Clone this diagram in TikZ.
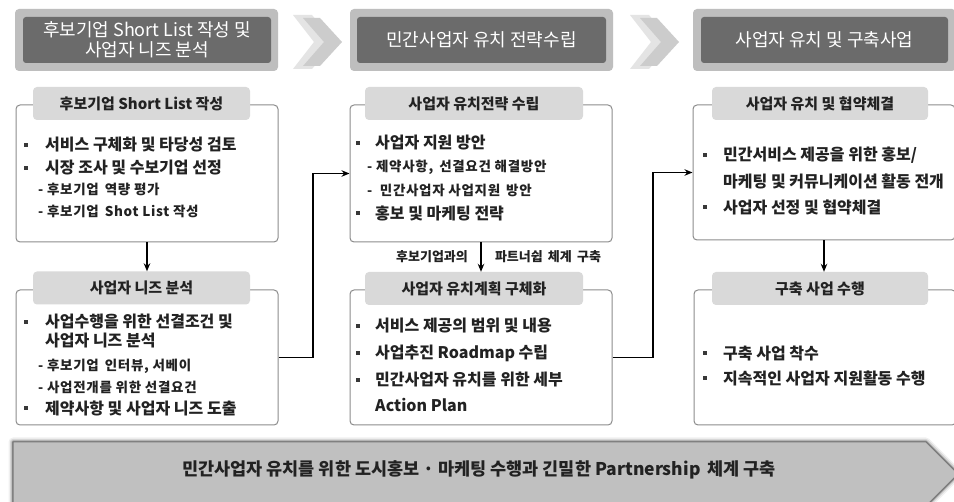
\documentclass[tikz,border=0pt]{standalone}
\usepackage{fontspec}
\setmainfont{Noto Sans CJK KR}
\usetikzlibrary{arrows.meta}
\definecolor{hdrouter}{HTML}{BEBEBE}
\definecolor{hdrinner}{HTML}{6B6B6B}
\definecolor{tabfill}{HTML}{D9D9D9}
\definecolor{boxline}{HTML}{8C8C8C}
\definecolor{txt}{HTML}{222222}
\definecolor{bannerfill}{HTML}{C0C0C0}
\definecolor{bannerline}{HTML}{7A7A7A}
\definecolor{chevA}{HTML}{E4E4E4}
\definecolor{chevB}{HTML}{CCCCCC}

\newcommand{\chev}[1]{%
  \fill[chevA] (#1-7,15) -- (#1+12,15) -- (#1+35,42) -- (#1+12,69) -- (#1-7,69) -- (#1+14,42) -- cycle;
  \fill[chevB] (#1+3,18) -- (#1+20,18) -- (#1+42,42) -- (#1+20,66) -- (#1+3,66) -- (#1+24,42) -- cycle;
}

\begin{document}
\begin{tikzpicture}[x=1pt,y=-1pt,
  hdrout/.style={fill=hdrouter, rounded corners=4pt, minimum width=263pt, minimum height=62pt, inner sep=0pt},
  hdrin/.style={fill=hdrinner, rounded corners=3pt, minimum width=248pt, minimum height=46pt, inner sep=0pt,
    text=white, align=center, font=\fontsize{18}{20}\selectfont},
  panel/.style={draw=boxline, line width=1pt, rounded corners=4pt, fill=white, minimum width=262pt, inner sep=0pt},
  tabbox/.style={fill=tabfill, rounded corners=4pt, minimum width=217pt, minimum height=33pt, inner sep=0pt,
    text=txt, font=\fontsize{15}{17}\selectfont\bfseries},
  item/.style={anchor=west, inner sep=0pt, text=txt, font=\fontsize{16}{18}\selectfont\bfseries},
  sub/.style={anchor=west, inner sep=0pt, text=txt, font=\fontsize{13.5}{15}\selectfont\bfseries\addfontfeature{LetterSpace=5}},
  midlabel/.style={inner sep=0pt, text=txt, font=\fontsize{13}{15}\selectfont\bfseries},
  dot/.style={fill=txt!90, minimum size=4pt, inner sep=0pt},
  conn/.style={draw=black, line width=1.4pt, -{Stealth[length=8pt,width=6.5pt]}},
]
\useasboundingbox (0,0) rectangle (954,502);
\fill[white] (0,0) rectangle (954,502);

% phase headers
\node[hdrout] (h1o) at (146.5,40) {};
\node[hdrin] (h1) at (147,40) {후보기업 Short List 작성 및\\사업자 니즈 분석};
\node[hdrout] (h2o) at (481.5,40) {};
\node[hdrin, minimum width=249pt] (h2) at (481.5,40) {민간사업자 유치 전략수립};
\node[hdrout] (h3o) at (824.5,40) {};
\node[hdrin, minimum width=247pt] (h3) at (824.5,40) {사업자 유치 및 구축사업};

% chevrons between headers
\chev{300}
\chev{637}

% panels
\node[panel, minimum height=137pt] (b1) at (147,173.5) {};
\node[panel, minimum height=135pt] (b2) at (147,357.5) {};
\node[panel, minimum height=137pt] (b3) at (481,173.5) {};
\node[panel, minimum height=135pt] (b4) at (481,357.5) {};
\node[panel, minimum height=135pt] (b5) at (824,172.5) {};
\node[panel, minimum height=135pt] (b6) at (825,357.5) {};

% panel titles
\node[tabbox] (t1) at (141.5,103.5) {후보기업 Short List 작성};
\node[tabbox] (t2) at (141.5,288) {사업자 니즈 분석};
\node[tabbox, minimum width=218pt] (t3) at (474,103.5) {사업자 유치전략 수립};
\node[tabbox, minimum width=218pt] (t4) at (474,288.5) {사업자 유치계획 구체화};
\node[tabbox, minimum width=216pt] (t5) at (820,103.5) {사업자 유치 및 협약체결};
\node[tabbox, minimum width=216pt] (t6) at (820,288.5) {구축 사업 수행};

% panel 1
\node[dot] (d11) at (26,145) {};
\node[item] (l11) at (45,145) {서비스 구체화 및 타당성 검토};
\node[dot] (d12) at (26,168) {};
\node[item] (l12) at (45,168) {시장 조사 및 수보기업 선정};
\node[sub] (l13) at (38,189) {- 후보기업\, 역량 평가};
\node[sub] (l14) at (38,211) {- 후보기업\, Shot List 작성};

% panel 2
\node[dot] (d21) at (26,322) {};
\node[item] (l21) at (45,322) {사업수행을 위한 선결조건 및};
\node[item] (l22) at (45,341) {사업자 니즈 분석};
\node[sub] (l23) at (38,366) {- 후보기업\, 인터뷰, 서베이};
\node[sub] (l24) at (38,387) {- 사업전개를 위한 선결요건};
\node[dot] (d25) at (26,408) {};
\node[item] (l25) at (45,408) {제약사항 및 사업자 니즈 도출};

% panel 3
\node[dot] (d31) at (358,143) {};
\node[item] (l31) at (375,143) {사업자 지원 방안};
\node[sub] (l32) at (367,167) {- 제약사항,\, 선결요건 해결방안};
\node[sub] (l33) at (367,190) {-\ \ 민간사업자 사업지원\, 방안};
\node[dot] (d34) at (358,213) {};
\node[item] (l34) at (375,213) {홍보 및 마케팅 전략};

% panel 4
\node[dot] (d41) at (358,326) {};
\node[item] (l41) at (375,326) {서비스 제공의 범위 및 내용};
\node[dot] (d42) at (358,353) {};
\node[item] (l42) at (375,353) {사업추진 Roadmap 수립};
\node[dot] (d43) at (358,380) {};
\node[item] (l43) at (375,380) {민간사업자 유치를 위한 세부};
\node[item] (l44) at (375,405) {Action Plan};

% panel 5
\node[dot] (d51) at (705,155) {};
\node[item] (l51) at (723,155) {민간서비스 제공을 위한 홍보/};
\node[item] (l52) at (723,181) {마케팅 및 커뮤니케이션 활동 전개};
\node[dot] (d53) at (705,207) {};
\node[item] (l53) at (723,207) {사업자 선정 및 협약체결};

% panel 6
\node[dot] (d61) at (705,353) {};
\node[item] (l61) at (723,353) {구축 사업 착수};
\node[dot] (d62) at (705,378) {};
\node[item] (l62) at (723,378) {지속적인 사업자 지원활동 수행};

% connectors
\coordinate (j1) at (313,0);
\coordinate (j2) at (653,0);
\draw[conn] (b1.south) -- (b1.south |- t2.north);
\draw[conn] (b3.south) -- (b3.south |- t4.north);
\draw[conn] (b5.south) -- (b5.south |- t6.north);
\draw[conn] (b2.east) -| (j1 |- b3.west) -- (b3.west);
\draw[conn] (b4.east) -| (j2 |- b5.west) -- (b5.west);
\node[midlabel] (m1) at (432,257) {후보기업과의};
\node[midlabel] (m2) at (548,257) {파트너쉽\, 체계\, 구축};

% bottom banner with soft shadow
\foreach \w/\o in {9/0.06,6/0.10,3.5/0.16,1.8/0.25}
  \draw[line width=\w pt, black, opacity=\o, line join=round]
    (13,442) -- (926,442) -- (958,474) -- (926,506) -- (13,506) -- cycle;
\filldraw[fill=bannerfill, draw=bannerline, line width=1pt, line join=round]
  (13,442) -- (926,442) -- (958,474) -- (926,506) -- (13,506) -- cycle;
\node[text=txt, font=\fontsize{17.5}{20}\selectfont\bfseries] (bn) at (479,470)
  {민간사업자 유치를 위한 도시홍보 · 마케팅 수행과 긴밀한 Partnership\, 체계 구축};
\end{tikzpicture}
\end{document}
